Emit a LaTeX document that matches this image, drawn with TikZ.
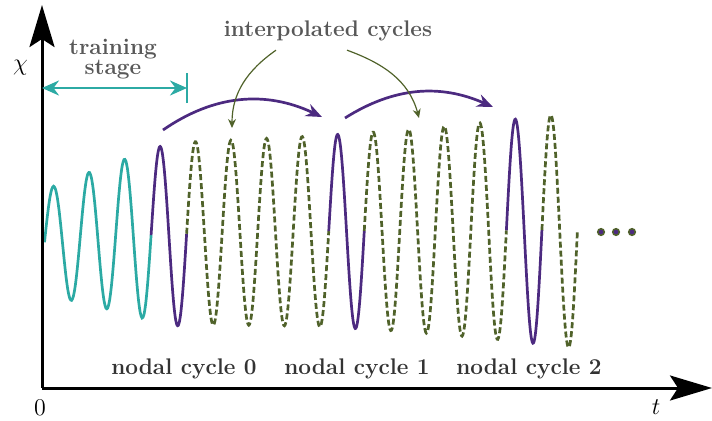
\documentclass[tikz,border=0pt]{standalone}
\usepackage{fontspec}
\usetikzlibrary{arrows.meta}

\definecolor{trainteal}{RGB}{44,170,164}
\definecolor{nodalpurple}{RGB}{76,42,128}
\definecolor{interpgreen}{RGB}{80,98,42}
\definecolor{labelgray}{RGB}{88,88,88}
\definecolor{cyclegray}{RGB}{51,51,51}

\tikzset{
  declare function={
    chirpamp(\x)=min(57.5+0.31*(\x-19),92+0.015*(\x-163)*(1+0.01*(\x-163)));
    chirpmid(\x)=145.5+12.5*(1-exp(-\x/120));
    chirp(\x)=chirpmid(\x)+chirpamp(\x)*sin((\x-2.5)*10.1323);
  },
  signal/.style={line width=1.35pt, smooth, samples=#1},
  signal/.default=60,
  training/.style={signal, trainteal},
  nodal/.style={signal, nodalpurple},
  interp/.style={signal=#1, interpgreen, dash pattern=on 3pt off 1.5pt},
  interp/.default=200,
  axis/.style={line width=1.5pt, -{Stealth[length=21pt,width=12.5pt,inset=4pt]}},
  mathlabel/.style={font=\fontsize{13}{15}\selectfont},
  textlabel/.style={font=\fontsize{11.3}{10}\selectfont\bfseries, labelgray, align=center},
  cyclelabel/.style={font=\fontsize{11.3}{13}\selectfont\bfseries, cyclegray, anchor=base},
}

\begin{document}
\begin{tikzpicture}[x=0.5pt,y=0.5pt]
\useasboundingbox (-42,-32) rectangle (670,388);

\draw[training] plot[domain=2.5:109.09] (\x,{chirp(\x)});
\draw[nodal] plot[domain=109.09:144.62] (\x,{chirp(\x)});
\draw[interp] plot[domain=144.62:286.74] (\x,{chirp(\x)});
\draw[nodal] plot[domain=286.74:322.27] (\x,{chirp(\x)});
\draw[interp] plot[domain=322.27:464.39] (\x,{chirp(\x)});
\draw[nodal] plot[domain=464.39:499.92] (\x,{chirp(\x)});
\draw[interp=60] plot[domain=499.92:535.45] (\x,{chirp(\x)});

\foreach \d in {559,574,590}
  \draw[interpgreen, fill=nodalpurple, line width=0.75pt] (\d,156) circle (3.3);

\coordinate (O) at (0,0);
\coordinate (ytop) at (0,383);
\coordinate (xend) at (670,0);
\draw[axis] (O) -- (ytop);
\draw[axis] (O) -- (xend);
\node[mathlabel] (chi) at (-21.5,320.5) {$\chi$};
\node[mathlabel] (zero) at (-2,-20) {$0$};
\node[mathlabel] (time) at (614,-19.5) {$t$};

\coordinate (trainstart) at (0,300);
\coordinate (trainend) at (145,300);
\coordinate (barlow) at (145,285);
\coordinate (barhigh) at (145,315);
\draw[trainteal, line width=1.3pt, {Stealth[length=8.5pt,width=7.5pt]}-{Stealth[length=8.5pt,width=7.5pt]}] (trainstart) -- (trainend);
\draw[trainteal, line width=1.3pt] (barlow) -- (barhigh);
\node[textlabel] (training) at (71,329) {training\\stage};

\coordinate (hop0) at (121,258);
\coordinate (hop1) at (280,271);
\coordinate (hop2) at (303,270);
\coordinate (hop3) at (451,281);
\draw[nodalpurple, line width=1.35pt, -{Stealth[length=8pt,width=6.5pt]}] (hop0) to[bend left=30] (hop1);
\draw[nodalpurple, line width=1.35pt, -{Stealth[length=8pt,width=6.5pt]}] (hop2) to[bend left=28] (hop3);

\node[textlabel] (interpolated) at (286,357) {interpolated cycles};
\coordinate (interp1) at (190,260);
\coordinate (interp2) at (377,270);
\draw[interpgreen, line width=0.6pt, -{Stealth[length=4.5pt,width=4pt]}] ([xshift=-26pt,yshift=-1pt]interpolated.south) to[out=215,in=90] (interp1);
\draw[interpgreen, line width=0.6pt, -{Stealth[length=4.5pt,width=4pt]}] ([xshift=9.5pt,yshift=-1pt]interpolated.south) to[out=-20,in=105] (interp2);

\node[cyclelabel] (nodal0) at (142,14) {nodal cycle 0};
\node[cyclelabel] (nodal1) at (315,14) {nodal cycle 1};
\node[cyclelabel] (nodal2) at (487,14) {nodal cycle 2};
\end{tikzpicture}
\end{document}
